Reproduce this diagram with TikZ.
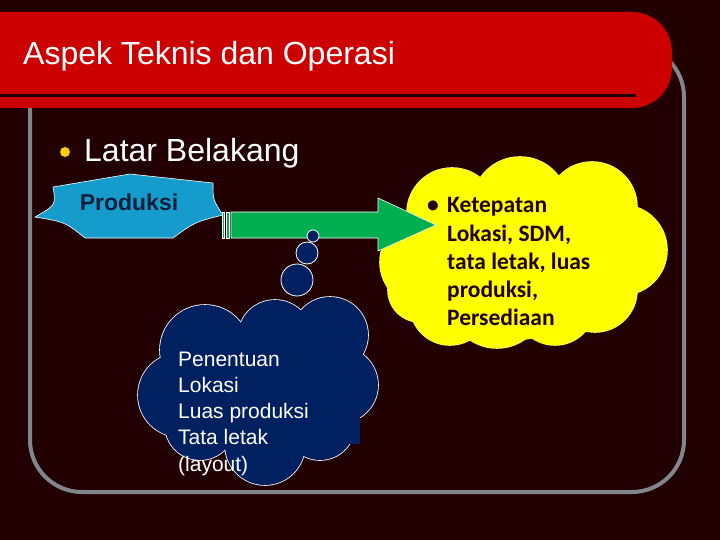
\documentclass[tikz,border=0pt]{standalone}
\usepackage{fontspec}
\setmainfont{Liberation Sans}
\newfontfamily\calibri{Carlito}
\definecolor{slidebg}{RGB}{34,0,2}
\definecolor{titlered}{RGB}{204,0,0}
\definecolor{framegray}{RGB}{128,134,138}
\definecolor{bulletgold}{RGB}{255,204,0}
\definecolor{prodblue}{RGB}{22,156,204}
\definecolor{prodtext}{RGB}{12,30,58}
\definecolor{arrowgreen}{RGB}{0,176,80}
\definecolor{cloudnavy}{RGB}{0,32,96}
\definecolor{cloudyellow}{RGB}{255,255,0}
\tikzset{
  slidetext/.style={text=white, anchor=base west, inner sep=0pt},
  yellowline/.style={text=slidebg, anchor=base west, inner sep=0pt,
    font=\calibri\bfseries\fontsize{23.5}{28}\selectfont},
  navyline/.style={text=white, anchor=base west, inner sep=0pt,
    font=\fontsize{21}{26}\selectfont},
  bubble/.style={fill=cloudnavy, draw=white, line width=0.8pt},
}
\begin{document}
\begin{tikzpicture}[x=1pt, y=-1pt]
  % Slide background
  \fill[slidebg] (0,0) rectangle (720,540);
  \useasboundingbox (0,0) rectangle (720,540);

  % Content frame
  \draw[framegray, line width=4pt, rounded corners=52pt] (30,45) rectangle (684,492);

  % Title bar
  \fill[titlered, rounded corners=40pt] (-60,12) rectangle (672,108);
  \draw[slidebg, line width=3pt] (0,96) -- (636,96);
  \node[slidetext, font=\fontsize{32}{38}\selectfont] (title) at (23,65) {Aspek Teknis dan Operasi};

  % Bullet line
  \fill[bulletgold] (65,152) circle (5);
  \node[slidetext, font=\fontsize{32}{38}\selectfont] (latar) at (84,162) {Latar Belakang};

  % Produksi shape
  \draw[fill=prodblue, draw=white, line width=0.6pt]
    (35,217) .. controls (56,205) .. (53,187) -- (130,174) -- (213,183)
    .. controls (213,200) .. (223,215) .. controls (195,222) .. (173,238)
    -- (85,238) .. controls (65,222) .. cycle;
  \node[font=\fontsize{23}{27}\selectfont\bfseries, text=prodtext] (produksi) at (129,202) {Produksi};

  % Yellow cloud
  \foreach \cx/\cy/\r in {452/213/45, 520/205/48, 592/207/45, 622/250/45,
      595/290/42, 555/305/40, 497/300/48, 450/305/40, 420/290/32, 425/262/45}
    \draw[yellow!55!white, line width=1.6pt] (\cx,\cy) circle[radius=\r];
  \foreach \cx/\cy/\r in {452/213/45, 520/205/48, 592/207/45, 622/250/45,
      595/290/42, 555/305/40, 497/300/48, 450/305/40, 420/290/32, 425/262/45,
      520/255/75, 520/290/50}
    \fill[cloudyellow] (\cx,\cy) circle[radius=\r];

  % Striped arrow
  \draw[fill=arrowgreen, draw=white, line width=0.6pt] (222,212) rectangle (224.5,238);
  \draw[fill=arrowgreen, draw=white, line width=0.6pt] (226.5,212) rectangle (229.5,238);
  \draw[fill=arrowgreen, draw=white, line width=0.6pt]
    (231,212) -- (378,212) -- (378,198) -- (436,225) -- (378,251) -- (378,238) -- (231,238) -- cycle;

  % Yellow cloud text
  \node[yellowline] (dot) at (427,213) {\textbullet};
  \foreach \t [count=\i] in {Ketepatan, {Lokasi, SDM,}, {tata letak, luas}, {produksi,}, Persediaan}
    \node[yellowline] (ket\i) at (447,{213+(\i-1)*28.2}) {\t};

  % Navy cloud
  \foreach \cx/\cy/\r in {205/350/45, 275/337/37, 330/335/38, 340/385/38,
      320/425/35, 265/445/40, 200/425/35, 180/395/42}
    \draw[white, line width=1.6pt] (\cx,\cy) circle[radius=\r];
  \foreach \cx/\cy/\r in {205/350/45, 275/337/37, 330/335/38, 340/385/38,
      320/425/35, 265/445/40, 200/425/35, 180/395/42, 265/392/62}
    \fill[cloudnavy] (\cx,\cy) circle[radius=\r];
  \fill[cloudnavy] (172,345) rectangle (360,444);

  % Thought bubbles
  \draw[bubble] (297,280) circle (16);
  \draw[bubble] (307,253) circle (11);
  \draw[bubble] (313,236) circle (6);

  % Navy cloud text
  \foreach \t [count=\i] in {Penentuan, Lokasi, Luas produksi, Tata letak, (layout)}
    \node[navyline] (pen\i) at (178,{366+(\i-1)*26.3}) {\t};
\end{tikzpicture}
\end{document}
